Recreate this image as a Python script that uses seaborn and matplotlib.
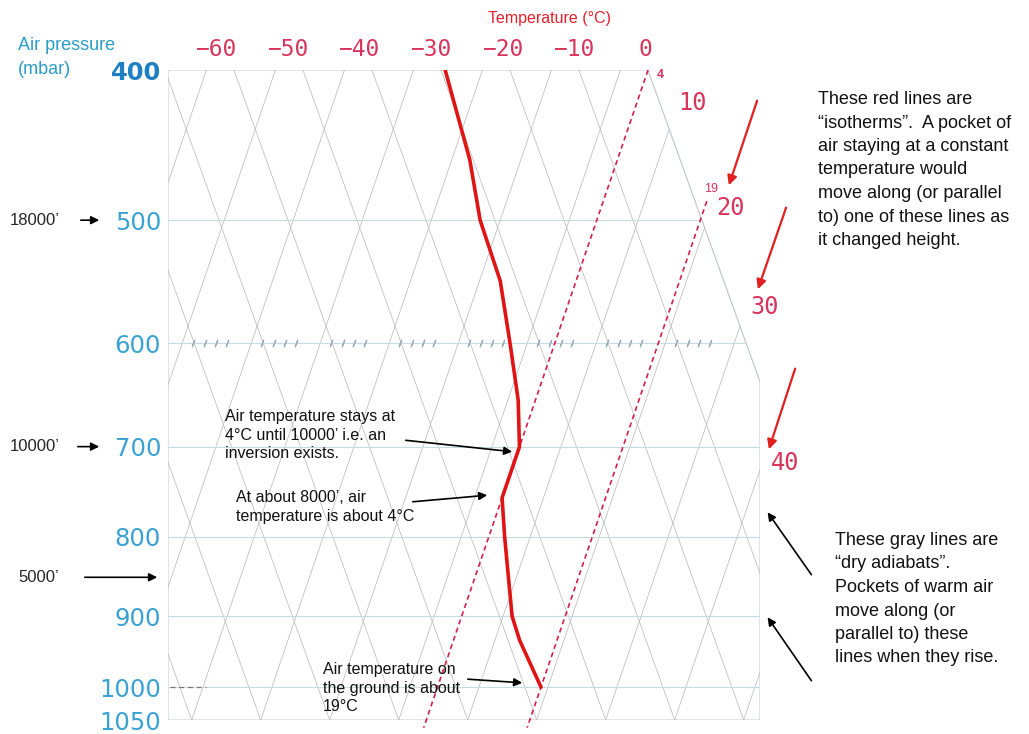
import numpy as np
import pandas as pd
import matplotlib.pyplot as plt
from matplotlib.patches import Polygon
from matplotlib.ticker import NullLocator
from matplotlib.transforms import blended_transform_factory
import seaborn as sns

# sounding (pressure in mbar, temperature in deg C)
pressure = [400, 457, 500, 547, 600, 653, 700, 755, 800, 900, 933, 1000]
temperature = [-25.4, -17.4, -12.9, -7.0, -2.5, 1.5, 4.0, 4.0, 6.3, 11.3, 13.6, 19.0]

pressure_ticks = [400, 500, 600, 700, 800, 900, 1000, 1050]
pressure_lines = [500, 600, 700, 800, 900, 1000]
top_temps = [-60, -50, -40, -30, -20, -10, 0]
side_temps = [10, 20, 30, 40]
marked_isotherms = [4, 19]
marked_tops = [400, 486]          # where the hand-drawn dashed lines start
altitudes = ["18000’", "10000’", "5000’"]
altitude_levels = [500, 700, 850]

SKEW = 33.3      # isotherm lean
ADIA = 35.1      # lean of the (straight) dry adiabats
XMIN, XMAX = -35.06, 50.74
W, H = 1029, 734


def skx(t, p):
    return np.asarray(t, dtype=float) + SKEW * np.log(1000.0 / np.asarray(p, dtype=float))


def px(x, y):
    return (x / W, 1 - y / H)


sns.set_theme(style="white")
plt.rcParams['font.family'] = ['Liberation Sans', 'DejaVu Sans']

fig = plt.figure(figsize=(W / 100, H / 100), dpi=100)
ax = fig.add_axes([168 / W, (H - 720) / H, (760 - 168) / W, 650 / H])
ax.set_yscale('log')
ax.set_ylim(1050, 400)
ax.set_xlim(XMIN, XMAX)
for s in ax.spines.values():
    s.set_visible(False)

# chart frame: right edge follows the 70 deg adiabat, then goes straight down
xb70 = float(skx(70, 1050))
x_top = xb70 - ADIA * np.log(1050 / 400)
p_knee = 1050 * np.exp(-(xb70 - XMAX) / ADIA)
frame = Polygon([(XMIN, 400), (x_top, 400), (XMAX, p_knee), (XMAX, 1050), (XMIN, 1050)],
                closed=True, fill=False, edgecolor='#c8d0d4', lw=0.8)
ax.add_patch(frame)

# gray lattice: isotherms and dry adiabats
pp = np.array([380.0, 1060.0])
for t in range(-110, 70, 10):
    ln, = ax.plot(skx(t, pp), pp, color='#bcbcbc', lw=0.55)
    ln.set_clip_path(frame)
for tb in range(-40, 120, 10):
    xs = skx(tb, 1050) - ADIA * np.log(1050 / pp)
    ln, = ax.plot(xs, pp, color='#bcbcbc', lw=0.55)
    ln.set_clip_path(frame)

# pressure levels
for p in pressure_lines:
    ln, = ax.plot([XMIN, XMAX], [p, p], color='#c8dae2', lw=0.8)
    ln.set_clip_path(frame)
ax.plot([XMIN + 0.3, XMIN + 5.5], [1000, 1000], color='#777777', lw=0.9, dashes=(4, 3))

# little wind-barb ticks along 600 mbar
tick_x = [skx(-31.4 - SKEW * np.log(1000 / 600), 600) + 10 * k + 1.65 * j
          for k in range(8) for j in range(4)]
tick_x = [x for x in tick_x if x < 47]
ax.scatter(tick_x, [600] * len(tick_x), marker=(2, 2, -20), s=26,
           color='#98adbb', linewidths=0.8, zorder=2)

# hand-drawn dashed isotherms
for t, ptop in zip(marked_isotherms, marked_tops):
    p_iso = np.array([ptop, 1062.0])
    ax.plot(skx(t, p_iso), p_iso, color='#d42048', lw=1.2, dashes=(3, 2.2),
            clip_on=False, zorder=3)

# temperature profile
df = pd.DataFrame({"p": pressure, "x": skx(temperature, pressure)})
sns.lineplot(data=df, x="x", y="p", sort=False, estimator=None,
             color='#e01414', lw=2.6, ax=ax, zorder=4)
ax.set_xlabel("")
ax.set_ylabel("")

# pressure axis labels
ax.set_xticks([])
ax.set_yticks(pressure_ticks)
ax.set_yticklabels([str(p) for p in pressure_ticks], family='DejaVu Sans', fontsize=17.5)
ax.yaxis.set_minor_locator(NullLocator())
ax.tick_params(axis='y', length=0, pad=5)
for lab in ax.get_yticklabels():
    if lab.get_text() == "400":
        lab.set_color('#1e7fc2')
        lab.set_fontweight('bold')
    else:
        lab.set_color('#3aa2d2')

# temperature labels along the top
tr = blended_transform_factory(ax.transData, ax.transAxes)
for t in top_temps:
    shift = (9 + 0.27 * (t + 60)) / 6.9
    ax.text(skx(t, 400) + shift, 1.031, f"{t}".replace("-", "−"), transform=tr,
            ha='center', va='center', fontsize=16.5, color='#d8355c',
            family='DejaVu Sans Mono')
for t, (x, y) in zip(side_temps, [(692, 103), (730, 208), (765, 307), (785, 463)]):
    fig.text(*px(x, y), str(t), ha='center', va='center', fontsize=17,
             color='#d8355c', family='DejaVu Sans Mono')
fig.text(*px(660, 75), "4", ha='center', va='center', fontsize=9, color='#d8355c',
         fontweight='bold')
fig.text(*px(711, 189), "19", ha='center', va='center', fontsize=9, color='#d8355c')

fig.text(*px(549, 18), "Temperature (°C)", ha='center', va='center', fontsize=11.5,
         color='#e4202c')
fig.text(*px(18, 37), "Air pressure\n(mbar)", ha='left', va='top', fontsize=13,
         color='#2a9cc6', linespacing=1.5)

# altitude marks on the left
arrow_k = dict(arrowstyle='-|>', color='black', lw=1.2, mutation_scale=12)
for name, lvl, x0, x1 in zip(altitudes, altitude_levels, [10, 10, 18], [78, 75, 82]):
    y = 70 + 673 * np.log(lvl / 400)
    fig.text(*px(x0, y), name, ha='left', va='center', fontsize=12)
    ax.annotate("", xy=px(102 if lvl != 850 else 160, y), xytext=px(x1, y),
                xycoords='figure fraction', textcoords='figure fraction',
                arrowprops=arrow_k)

# notes on the chart
note_k = dict(ha='left', va='top', fontsize=11.5, linespacing=1.3, color='#111111')
fig.text(*px(225, 409), "Air temperature stays at\n4°C until 10000’ i.e. an\ninversion exists.", **note_k)
fig.text(*px(236, 490), "At about 8000’, air\ntemperature is about 4°C", **note_k)
fig.text(*px(323, 662), "Air temperature on\nthe ground is about\n19°C", **note_k)
for (x0, y0), (x1, y1) in [((403, 440), (515, 452)), ((410, 502), (490, 495)),
                           ((465, 679), (525, 683))]:
    ax.annotate("", xy=px(x1, y1), xytext=px(x0, y0), xycoords='figure fraction',
                textcoords='figure fraction', arrowprops=arrow_k)

side_k = dict(ha='left', va='top', fontsize=13, linespacing=1.5, color='#111111')
fig.text(*px(818, 91), "These red lines are\n“isotherms”.  A pocket of\nair staying at a constant\n"
         "temperature would\nmove along (or parallel\nto) one of these lines as\nit changed height.",
         **side_k)
fig.text(*px(835, 532), "These gray lines are\n“dry adiabats”.\nPockets of warm air\n"
         "move along (or\nparallel to) these\nlines when they rise.", **side_k)

red_k = dict(arrowstyle='-|>', color='#e02020', lw=1.6, mutation_scale=14)
for (x0, y0), (x1, y1) in [((758, 98), (728, 188)), ((787, 205), (757, 292)),
                           ((796, 366), (768, 452))]:
    ax.annotate("", xy=px(x1, y1), xytext=px(x0, y0), xycoords='figure fraction',
                textcoords='figure fraction', arrowprops=red_k)
for (x0, y0), (x1, y1) in [((813, 577), (766, 510)), ((813, 683), (766, 615))]:
    ax.annotate("", xy=px(x1, y1), xytext=px(x0, y0), xycoords='figure fraction',
                textcoords='figure fraction', arrowprops=arrow_k)

fig.savefig("out.png", dpi=100)
